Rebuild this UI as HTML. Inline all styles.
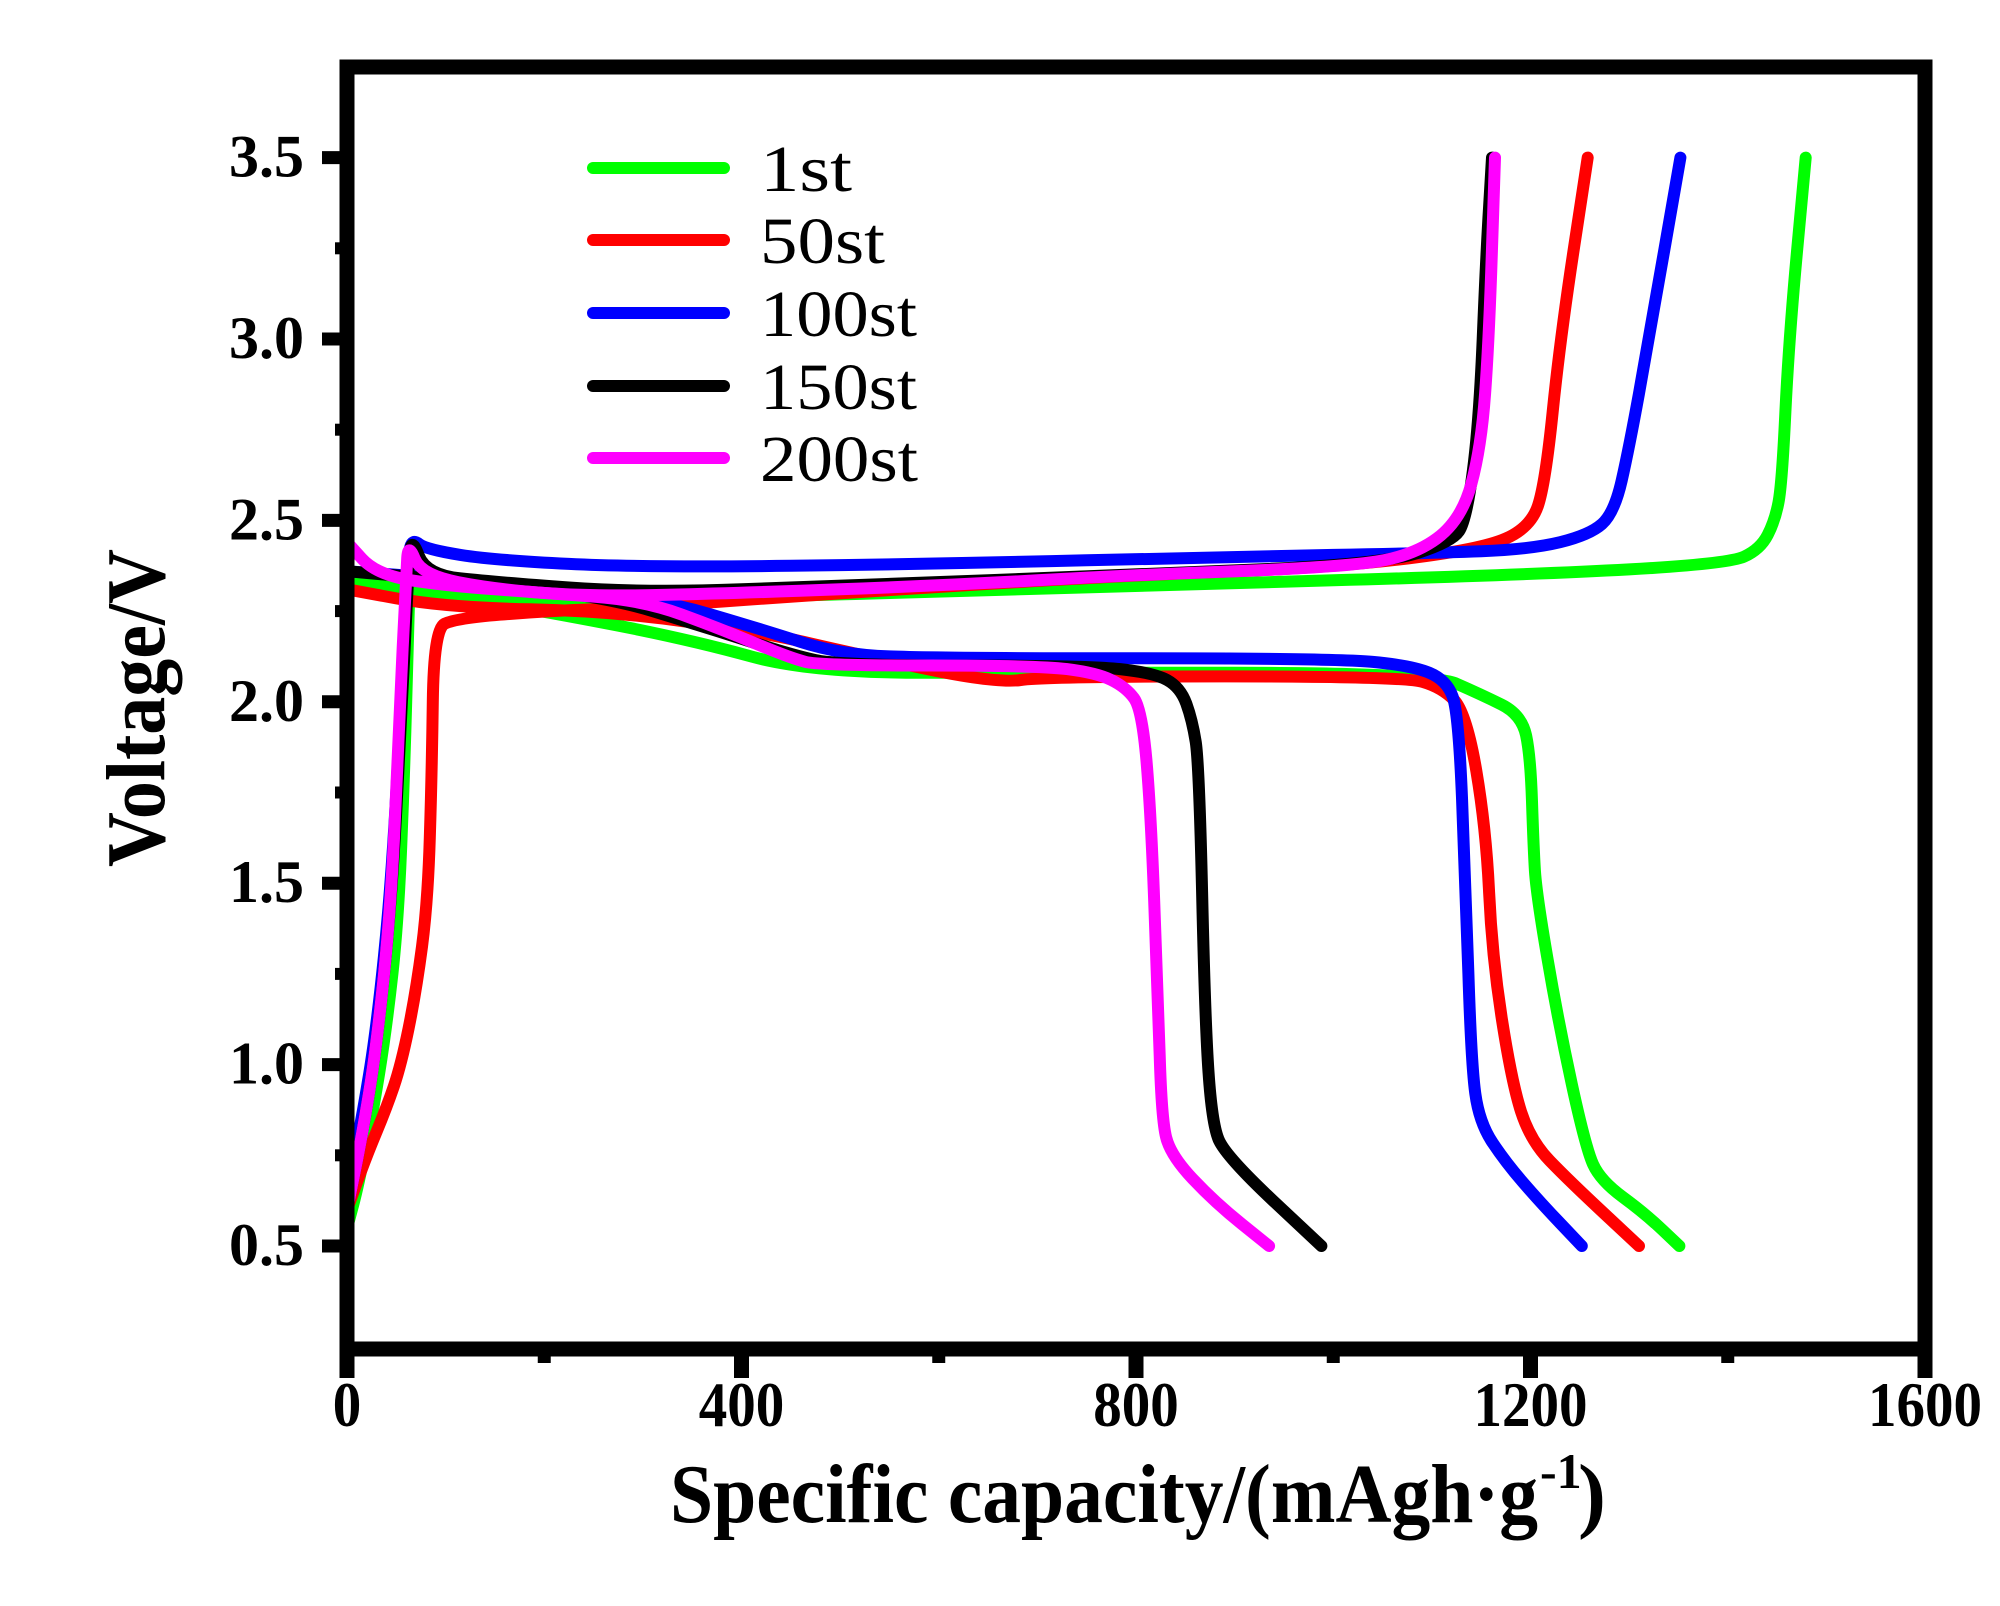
<!DOCTYPE html>
<html><head><meta charset="utf-8"><style>
html,body{margin:0;padding:0;background:#fff;}
svg{display:block;}
text{font-family:"Liberation Serif",serif;}
</style></head><body>
<svg id="chart" width="2000" height="1606" viewBox="0 0 2000 1606" xmlns="http://www.w3.org/2000/svg">
<g id="curves"></g>
<g id="axes"></g>
<g id="legend"></g>
<text x="670" y="1522" font-size="84" font-weight="bold" textLength="868" lengthAdjust="spacingAndGlyphs">Specific capacity/(mAgh·g</text>
<text x="1540" y="1488" font-size="50" font-weight="bold">-1</text>
<text x="1578" y="1522" font-size="84" font-weight="bold">)</text>
<text transform="translate(164,708) rotate(-90)" text-anchor="middle" font-size="84" font-weight="bold" textLength="318" lengthAdjust="spacingAndGlyphs">Voltage/V</text>
</svg>
<script>
const seriesNames = ["1st","50st","100st","150st","200st"];
const seriesColors = ["#00ff00","#ff0000","#0000ff","#000000","#ff00ff"];
const xTicks = [0,400,800,1200,1600];
const yTicks = [0.5,1.0,1.5,2.0,2.5,3.0,3.5];
const xMinor = [200,600,1000,1400];
const yMinor = [0.75,1.25,1.75,2.25,2.75,3.25];
// [capacity, voltage]
const charge1 = [[0,0.55],[10,0.65],[25,0.85],[40,1.1],[52,1.4],[58,1.8],[62,2.2],[65,2.47],[72,2.33],[90,2.29],[300,2.28],[800,2.32],[1200,2.35],[1400,2.38],[1433,2.42],[1448,2.5],[1455,2.6],[1462,3.0],[1479,3.5]];
const discharge1 = [[0,2.34],[200,2.25],[350,2.17],[470,2.08],[700,2.08],[1100,2.08],[1150,2.02],[1191,1.965],[1200,1.85],[1203,1.6],[1206,1.47],[1228,1.12],[1256,0.77],[1271,0.68],[1316,0.59],[1351,0.5]];
const charge50 = [[0,0.6],[20,0.75],[40,0.88],[55,1.0],[70,1.2],[82,1.45],[86,1.8],[88,2.2],[110,2.23],[200,2.25],[300,2.26],[500,2.3],[800,2.35],[1000,2.37],[1150,2.42],[1200,2.48],[1215,2.6],[1230,3.0],[1258,3.5]];
const discharge50 = [[0,2.31],[100,2.26],[270,2.25],[424,2.19],[502,2.14],[657,2.05],[709,2.07],[1071,2.07],[1110,2.04],[1135,1.97],[1155,1.65],[1161,1.3],[1181,0.95],[1200,0.79],[1239,0.68],[1310,0.5]];
const charge100 = [[0,0.65],[15,0.85],[30,1.1],[45,1.5],[55,2.0],[62,2.4],[66,2.45],[80,2.42],[150,2.39],[300,2.37],[600,2.38],[900,2.4],[1100,2.41],[1200,2.42],[1260,2.46],[1285,2.52],[1300,2.7],[1320,3.0],[1352,3.5]];
const discharge100 = [[0,2.36],[200,2.32],[320,2.28],[420,2.2],[500,2.13],[600,2.12],[1000,2.12],[1080,2.1],[1115,2.06],[1127,1.97],[1134,1.5],[1140,1.0],[1148,0.84],[1175,0.73],[1210,0.62],[1252,0.5]];
const charge150 = [[0,0.6],[15,0.8],[30,1.05],[45,1.45],[55,1.95],[62,2.35],[65,2.46],[80,2.35],[150,2.33],[300,2.3],[500,2.32],[800,2.35],[1050,2.38],[1120,2.44],[1135,2.5],[1148,2.77],[1155,3.23],[1161,3.5]];
const discharge150 = [[0,2.36],[250,2.3],[370,2.2],[450,2.13],[500,2.1],[750,2.1],[818,2.08],[845,2.04],[857,1.95],[864,1.83],[870,1.12],[877,0.84],[890,0.75],[988,0.5]];
const charge200 = [[0,0.6],[15,0.8],[30,1.05],[45,1.45],[53,1.95],[60,2.35],[62,2.44],[75,2.35],[150,2.31],[250,2.29],[400,2.3],[600,2.32],[800,2.35],[1000,2.37],[1080,2.4],[1130,2.5],[1150,2.7],[1158,3.0],[1164,3.5]];
const discharge200 = [[0,2.44],[30,2.35],[100,2.32],[200,2.3],[300,2.28],[380,2.2],[450,2.12],[480,2.1],[700,2.1],[760,2.08],[790,2.04],[806,1.98],[815,1.7],[822,1.2],[826,0.85],[835,0.75],[880,0.62],[935,0.5]];
const allSeries = [[charge1,discharge1],[charge50,discharge50],[charge100,discharge100],[charge150,discharge150],[charge200,discharge200]];

const NS="http://www.w3.org/2000/svg";
function X(c){return 347+c*0.98625;}
function Y(v){return 1246-(v-0.5)*362.8;}
function mk(tag,attrs,parent){const e=document.createElementNS(NS,tag);for(const k in attrs)e.setAttribute(k,attrs[k]);parent.appendChild(e);return e;}
function smoothPath(pts){
  const P=pts.map(p=>[X(p[0]),Y(p[1])]);
  let d='M'+P[0][0].toFixed(1)+','+P[0][1].toFixed(1);
  for(let k=1;k<P.length-1;k++){
    const a=P[k-1],b=P[k],c=P[k+1];
    const m1=[(a[0]+b[0])/2,(a[1]+b[1])/2], m2=[(b[0]+c[0])/2,(b[1]+c[1])/2];
    d+=' L'+m1[0].toFixed(1)+','+m1[1].toFixed(1)+' Q'+b[0].toFixed(1)+','+b[1].toFixed(1)+' '+m2[0].toFixed(1)+','+m2[1].toFixed(1);
  }
  const L=P[P.length-1];
  d+=' L'+L[0].toFixed(1)+','+L[1].toFixed(1);
  return d;
}

const curves=document.getElementById('curves');
allSeries.forEach((pair,i)=>{
  pair.forEach((pts,j)=>{
    const p=mk('path',{d:smoothPath(pts),fill:'none',stroke:seriesColors[i],'stroke-width':12,'stroke-linecap':'round','stroke-linejoin':'round'},curves);
    
    
  });
});

const axes=document.getElementById('axes');
const frame=mk('rect',{x:347,y:67,width:1578,height:1282,fill:'none',stroke:'#000','stroke-width':15},axes);


xTicks.forEach(t=>{
  const l=mk('line',{x1:X(t),x2:X(t),y1:1349,y2:1378,stroke:'#000','stroke-width':15},axes);
  
  
  const w=String(t).length*28.5;
  const tx=mk('text',{x:X(t),y:1426,'text-anchor':'middle','font-size':64,'font-weight':'bold',textLength:w,lengthAdjust:'spacingAndGlyphs'},axes);
  tx.textContent=t;
  
  
});
xMinor.forEach(t=>{
  const l=mk('line',{x1:X(t),x2:X(t),y1:1349,y2:1363,stroke:'#000','stroke-width':13},axes);
  
  
});
yTicks.forEach(t=>{
  const l=mk('line',{x1:322,x2:347,y1:Y(t),y2:Y(t),stroke:'#000','stroke-width':13},axes);
  
  
  const tx=mk('text',{x:304,y:Y(t)+19,'text-anchor':'end','font-size':60,'font-weight':'bold'},axes);
  tx.textContent=t.toFixed(1);
  
  
});
yMinor.forEach(t=>{
  const l=mk('line',{x1:335,x2:347,y1:Y(t),y2:Y(t),stroke:'#000','stroke-width':12},axes);
  
  
});

const legend=document.getElementById('legend');
const legY=[168,240,313,386,458];
const legW=[92,125,157,157,158];
seriesNames.forEach((n,i)=>{
  const l=mk('line',{x1:593,x2:724,y1:legY[i],y2:legY[i],stroke:seriesColors[i],'stroke-width':12,'stroke-linecap':'round'},legend);
  
  
  const t=mk('text',{x:760,y:legY[i]+23,'font-size':66,textLength:legW[i],lengthAdjust:'spacingAndGlyphs'},legend);
  t.textContent=n;
  
  
});
</script>
</body></html>
